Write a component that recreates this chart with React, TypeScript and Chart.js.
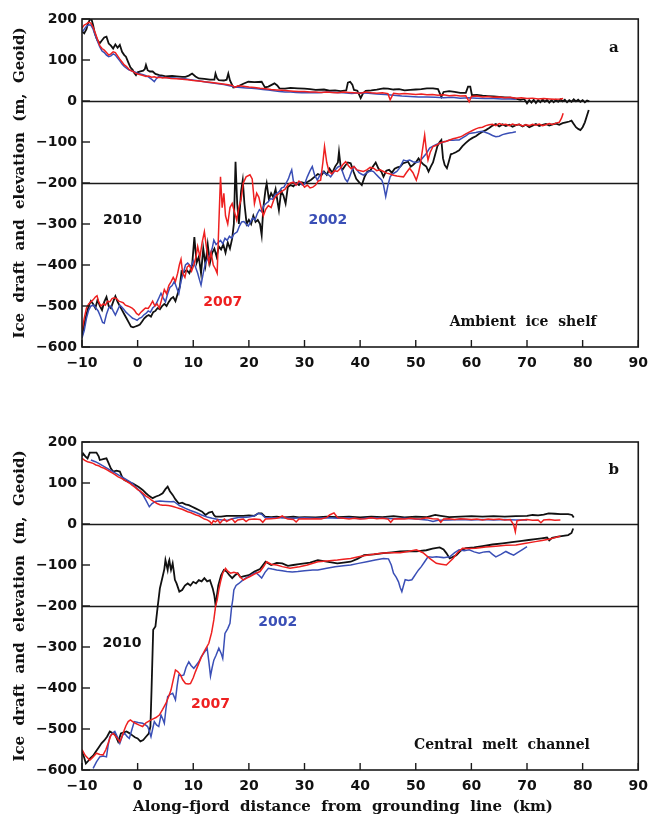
import React, { useEffect, useRef } from "react";
import { Chart, registerables } from "chart.js";

Chart.register(...registerables);

type Pt = [number, number];

// ---------- Panel a: ambient ice shelf ----------
const aTop2010: Pt[] = [[-10,170],[-9.6,165],[-9.2,175],[-8.9,190],[-8.6,198],[-8.3,200],[-8,185],[-7.7,165],[-7.3,150],[-6.8,141],[-6.4,148],[-6,155],[-5.6,157],[-5.2,140],[-4.8,135],[-4.4,128],[-4,138],[-3.6,130],[-3.2,137],[-2.8,120],[-2.4,112],[-2.1,108],[-1.7,95],[-1.3,82],[-0.9,76],[-0.6,68],[-0.3,63],[0,70],[0.5,72],[1,74],[1.3,78],[1.5,88],[1.8,75],[2.2,72],[2.7,72],[3.2,66],[3.9,63],[4.5,62],[5,60],[6.2,61],[7,60],[8,59],[8.6,59],[9.2,62],[9.8,67],[10.4,60],[11,55],[12,54],[13,52],[13.8,52],[14,67],[14.3,55],[14.6,51],[15.5,50],[16,52],[16.3,67],[16.6,50],[17.2,33],[18,35],[19,42],[19.9,47],[21,46],[22.3,47],[22.6,40],[22.9,33],[23.5,35],[24.6,43],[25.1,38],[25.5,31],[26.5,30],[27.5,32],[28.8,31],[30,30],[31,29],[32,27],[33.5,28],[34.5,25],[35.5,26],[36.5,24],[37.5,26],[37.8,45],[38.2,47],[38.6,40],[38.9,27],[39.5,25],[40.1,7],[40.5,18],[41,25],[42,26],[43,28],[44.2,31],[45,30],[46,28],[47,29],[48,26],[49,27],[50,28],[51,29],[52,31],[53.1,31],[54,29],[54.6,10],[55,22],[56,24],[57,22],[58,20],[59,20],[59.4,35],[59.8,35],[60.1,14],[61,15],[62,13],[63,12],[64,11],[65,10],[66,9],[67,8],[68,6],[68.8,3],[69.5,5],[70,-6],[70.4,2],[70.8,-4],[71.2,3],[71.6,-5],[72,2],[72.4,-3],[72.8,4],[73.2,-2],[73.6,3],[74,-4],[74.4,2],[74.8,-3],[75.2,3],[75.6,-2],[76,4],[76.4,-1],[76.8,3],[77.2,-3],[77.6,2],[78,-2],[78.4,4],[78.8,-1],[79.2,3],[79.6,-2],[80,2],[80.4,-3],[80.8,1],[81.2,-1]];

const aTop2007: Pt[] = [[-10,178],[-9.6,185],[-9.2,188],[-8.8,192],[-8.4,190],[-8,180],[-7.6,165],[-7.2,150],[-6.8,135],[-6.4,128],[-6,124],[-5.6,118],[-5.2,112],[-4.8,115],[-4.4,120],[-4,118],[-3.6,110],[-3.2,102],[-2.8,95],[-2.4,88],[-2,84],[-1.6,78],[-1.2,74],[-0.8,72],[-0.4,68],[0,66],[0.5,64],[1,62],[1.5,60],[2,61],[2.5,58],[3,59],[3.5,57],[4,58],[4.5,56],[5,57],[6,55],[7,54],[8,53],[9,52],[10,50],[11,49],[12,47],[13,46],[14,44],[15,42],[16,40],[17,38],[17.5,33],[18,37],[19,36],[20,34],[21,33],[22,31],[23,30],[24,28],[25,27],[26,26],[27,25],[28,24],[29,23],[30,23],[31,22],[32,22],[33,21],[34,22],[35,21],[36,20],[37,22],[38,21],[39,20],[40,19],[41,22],[42,20],[43,19],[44,20],[45,18],[45.4,3],[46,19],[47,17],[48,18],[49,17],[50,16],[51,17],[52,15],[53,16],[54,14],[55,15],[56,13],[57,14],[58,12],[59,13],[59.6,-2],[60,11],[61,12],[62,10],[63,11],[64,9],[65,10],[66,8],[67,9],[68,7],[69,8],[70,6],[71,7],[72,5],[73,6],[74,5],[75,4],[76,5],[76.5,6]];

const aTop2002: Pt[] = [[-10,168],[-9.6,175],[-9.2,182],[-8.8,186],[-8.4,185],[-8,175],[-7.6,160],[-7.2,145],[-6.8,132],[-6.4,122],[-6,118],[-5.6,112],[-5.2,108],[-4.8,110],[-4.4,115],[-4,112],[-3.6,105],[-3.2,98],[-2.8,90],[-2.4,84],[-2,80],[-1.6,76],[-1.2,74],[-0.8,72],[-0.4,70],[0,68],[0.5,66],[1,64],[1.5,62],[2,58],[2.6,52],[3,47],[3.4,55],[3.8,60],[4.5,58],[5.5,57],[6.5,56],[7.5,55],[8.5,54],[9.5,52],[10.5,50],[11.5,48],[12.5,46],[13.5,44],[14.5,42],[15.5,40],[16.5,37],[17.5,34],[18.5,33],[19.5,32],[20.5,31],[21.5,30],[22.5,28],[23.5,27],[24.5,25],[25.5,23],[26.5,22],[27.5,22],[28.5,21],[29.5,20],[31,21],[32.5,20],[34,22],[35.5,21],[37,20],[38.5,18],[40,20],[41.5,19],[43,17],[44.5,16],[46,14],[47.5,12],[49,11],[50.5,10],[52,10],[53.5,9],[55,8],[56.5,9],[58,7],[59.5,8],[61,7],[62.5,6],[64,6],[65.5,5],[67,5],[68,4]];

const aDraft2010: Pt[] = [[-10,-572],[-9.6,-545],[-9.2,-520],[-8.8,-500],[-8.4,-488],[-8,-495],[-7.6,-505],[-7.2,-485],[-6.8,-500],[-6.4,-510],[-6,-490],[-5.6,-478],[-5.2,-500],[-4.8,-505],[-4.4,-490],[-4,-476],[-3.6,-490],[-3.2,-500],[-2.8,-510],[-2.4,-520],[-2,-530],[-1.6,-540],[-1.2,-550],[-0.8,-552],[-0.4,-550],[0,-548],[0.4,-545],[0.8,-538],[1.2,-530],[1.6,-525],[2,-522],[2.4,-526],[2.8,-515],[3.2,-512],[3.6,-505],[4,-508],[4.4,-500],[4.8,-495],[5.2,-500],[5.6,-490],[6,-482],[6.4,-478],[6.8,-488],[7.2,-470],[7.6,-452],[7.9,-415],[8.3,-418],[8.8,-412],[9.3,-420],[9.8,-400],[10.2,-332],[10.6,-395],[11,-380],[11.4,-420],[11.8,-360],[12.2,-400],[12.6,-350],[13,-395],[13.4,-370],[13.8,-360],[14.2,-380],[14.6,-355],[15,-362],[15.4,-350],[15.8,-370],[16.2,-345],[16.6,-360],[17,-335],[17.3,-300],[17.6,-148],[17.9,-250],[18.2,-300],[18.6,-220],[18.9,-193],[19.2,-250],[19.6,-300],[20,-290],[20.4,-300],[20.8,-280],[21.2,-295],[21.6,-290],[22,-300],[22.3,-327],[22.6,-260],[23,-215],[23.2,-201],[23.6,-240],[24,-225],[24.4,-235],[24.8,-215],[25.2,-250],[25.4,-266],[25.8,-220],[26.2,-230],[26.6,-250],[27,-210],[27.5,-205],[28,-208],[28.5,-200],[29,-205],[29.5,-198],[30,-200],[30.6,-197],[31.2,-192],[31.8,-185],[32.4,-178],[33,-182],[33.5,-172],[34,-180],[34.5,-165],[35,-175],[35.5,-160],[36,-150],[36.2,-124],[36.5,-160],[36.8,-168],[37.3,-158],[37.8,-150],[38.3,-152],[38.8,-172],[39.3,-190],[39.8,-198],[40.3,-205],[40.8,-185],[41.3,-172],[41.8,-170],[42.3,-160],[42.8,-150],[43.3,-165],[43.8,-172],[44.2,-185],[44.7,-170],[45.2,-168],[45.7,-175],[46.2,-165],[46.7,-162],[47.2,-160],[47.7,-152],[48.2,-150],[48.6,-148],[49.1,-160],[49.5,-156],[50,-150],[50.5,-140],[50.9,-148],[51.4,-155],[51.9,-160],[52.3,-172],[52.7,-160],[53.1,-150],[53.5,-130],[53.9,-110],[54.3,-100],[54.6,-95],[54.9,-140],[55.2,-156],[55.6,-164],[55.9,-150],[56.3,-130],[56.7,-128],[57.2,-125],[57.8,-120],[58.4,-110],[59,-102],[59.6,-95],[60.2,-90],[60.8,-86],[61.4,-80],[62,-75],[62.6,-71],[63.2,-66],[63.8,-60],[64.4,-56],[65,-62],[65.6,-57],[66.2,-61],[66.8,-58],[67.4,-63],[68,-59],[68.6,-57],[69.2,-62],[69.8,-58],[70.4,-64],[71,-60],[71.6,-56],[72.2,-61],[72.8,-58],[73.4,-56],[74,-60],[74.6,-57],[75.2,-55],[75.8,-58],[76.4,-54],[77,-52],[77.6,-50],[78,-48],[78.4,-56],[78.8,-64],[79.2,-68],[79.6,-71],[80,-64],[80.4,-52],[80.8,-35],[81.1,-22]];

const aDraft2007: Pt[] = [[-10,-560],[-9.6,-530],[-9.2,-505],[-8.8,-495],[-8.4,-490],[-8,-485],[-7.6,-478],[-7.3,-475],[-7,-490],[-6.6,-500],[-6.2,-495],[-5.8,-498],[-5.4,-488],[-5,-490],[-4.6,-482],[-4.2,-480],[-3.8,-482],[-3.4,-488],[-3,-490],[-2.6,-492],[-2.2,-498],[-1.8,-500],[-1.4,-502],[-1,-505],[-0.6,-510],[-0.2,-518],[0.2,-522],[0.6,-515],[1,-510],[1.4,-505],[1.9,-506],[2.3,-498],[2.7,-488],[3.1,-500],[3.5,-495],[3.9,-505],[4.3,-485],[4.8,-460],[5.2,-470],[5.6,-450],[6,-441],[6.4,-430],[6.8,-440],[7.2,-420],[7.5,-400],[7.8,-386],[8.1,-420],[8.5,-430],[8.9,-405],[9.3,-400],[9.7,-415],[10.1,-400],[10.5,-380],[10.8,-355],[11.2,-380],[11.6,-345],[12,-319],[12.4,-360],[12.8,-395],[13.2,-370],[13.6,-400],[14,-410],[14.3,-420],[14.6,-300],[14.9,-185],[15.2,-260],[15.5,-225],[15.8,-280],[16.2,-300],[16.6,-260],[17,-250],[17.4,-270],[17.8,-290],[18.2,-260],[18.6,-240],[19,-200],[19.5,-185],[20.2,-180],[20.6,-190],[21,-250],[21.4,-225],[21.8,-235],[22.2,-260],[22.6,-280],[23,-265],[23.5,-255],[24,-260],[24.5,-240],[25,-230],[25.5,-225],[26,-220],[26.5,-215],[27,-205],[27.5,-200],[28,-198],[28.5,-205],[29,-195],[29.5,-200],[30,-210],[30.5,-205],[31,-212],[31.5,-210],[32,-205],[32.5,-195],[32.9,-193],[33.3,-150],[33.6,-111],[34,-150],[34.4,-172],[34.9,-178],[35.4,-170],[35.9,-172],[36.4,-165],[36.9,-155],[37.4,-148],[37.9,-158],[38.4,-165],[38.9,-160],[39.4,-168],[40,-170],[40.6,-172],[41.2,-168],[41.8,-162],[42.4,-164],[43,-170],[43.6,-168],[44.2,-172],[44.8,-176],[45.4,-178],[46,-181],[46.6,-183],[47.2,-184],[47.8,-185],[48.3,-175],[48.9,-164],[49.5,-175],[50.1,-193],[50.5,-175],[50.8,-156],[51.2,-120],[51.6,-83],[51.9,-120],[52.2,-144],[52.6,-125],[53.1,-111],[53.7,-108],[54.3,-103],[54.9,-100],[55.5,-98],[56.1,-95],[56.7,-92],[57.3,-90],[57.9,-88],[58.4,-85],[59,-80],[59.6,-76],[60.2,-72],[60.8,-68],[61.4,-65],[62,-64],[62.6,-60],[63.2,-58],[63.8,-57],[64.4,-60],[65,-55],[65.6,-58],[66.2,-57],[66.8,-60],[67.4,-56],[68,-59],[68.6,-57],[69.2,-61],[69.8,-58],[70.4,-60],[71,-57],[71.6,-59],[72.2,-56],[72.8,-60],[73.4,-58],[74,-55],[74.6,-57],[75.2,-54],[75.8,-52],[76.2,-42],[76.5,-30]];

const aDraft2002: Pt[] = [[-10,-578],[-9.6,-560],[-9.2,-530],[-8.8,-510],[-8.4,-500],[-7.9,-498],[-7.5,-505],[-7.1,-512],[-6.7,-525],[-6.3,-540],[-6,-542],[-5.6,-520],[-5.2,-505],[-4.8,-500],[-4.4,-512],[-4,-522],[-3.6,-510],[-3.2,-498],[-2.9,-502],[-2.5,-508],[-2.1,-515],[-1.7,-520],[-1.3,-525],[-0.9,-530],[-0.5,-532],[-0.1,-535],[0.3,-530],[0.7,-528],[1.1,-522],[1.5,-518],[1.9,-512],[2.3,-515],[2.7,-505],[3.1,-500],[3.5,-490],[3.9,-478],[4.2,-469],[4.6,-480],[5,-490],[5.4,-470],[5.8,-455],[6.2,-450],[6.6,-440],[7,-455],[7.4,-470],[7.8,-440],[8.2,-420],[8.6,-400],[9,-395],[9.6,-404],[10,-390],[10.4,-405],[10.8,-420],[11.1,-435],[11.4,-449],[11.8,-420],[12.2,-395],[12.6,-385],[13,-375],[13.4,-360],[13.7,-339],[14.1,-350],[14.5,-345],[14.9,-340],[15.3,-348],[15.7,-335],[16.1,-340],[16.5,-330],[16.9,-335],[17.3,-325],[17.9,-319],[18.3,-305],[18.7,-295],[19.1,-294],[19.5,-300],[19.9,-305],[20.3,-295],[20.7,-285],[21.1,-290],[21.5,-275],[21.9,-265],[22.3,-270],[22.7,-255],[23.1,-250],[23.5,-245],[23.9,-238],[24.3,-240],[24.7,-228],[25.1,-225],[25.5,-220],[25.9,-212],[26.3,-210],[26.7,-200],[27.1,-190],[27.4,-178],[27.7,-168],[28,-195],[28.4,-205],[28.8,-200],[29.2,-198],[29.6,-205],[30,-203],[30.5,-185],[31,-170],[31.4,-160],[31.8,-180],[32.3,-193],[32.8,-180],[33.3,-172],[33.8,-178],[34.3,-180],[34.7,-185],[35.2,-175],[35.7,-165],[36.1,-160],[36.5,-160],[36.9,-175],[37.3,-190],[37.7,-197],[38.1,-185],[38.5,-170],[38.9,-160],[39.4,-168],[39.8,-175],[40.2,-178],[40.6,-181],[41.1,-176],[41.6,-172],[42,-170],[42.4,-172],[42.8,-178],[43.3,-185],[43.9,-193],[44.2,-205],[44.6,-233],[45,-205],[45.4,-185],[45.8,-178],[46.2,-175],[46.6,-172],[47,-165],[47.4,-155],[47.8,-144],[48.3,-146],[48.9,-144],[49.5,-148],[50.1,-150],[50.7,-148],[51.3,-138],[51.9,-128],[52.5,-115],[53.1,-110],[53.7,-106],[54.3,-103],[54.9,-100],[55.5,-98],[56.1,-95],[56.7,-96],[57.2,-95],[57.8,-95],[58.4,-90],[59,-85],[59.6,-79],[60.2,-78],[60.8,-77],[61.4,-75],[62,-74],[62.6,-77],[63.2,-80],[63.8,-84],[64.4,-87],[65,-86],[65.6,-82],[66.2,-80],[66.8,-78],[67.4,-77],[68,-75]];

// ---------- Panel b: central melt channel ----------
const bTop2010: Pt[] = [[-10,165],[-9.8,172],[-9.4,165],[-9,160],[-8.6,174],[-8,174],[-7.4,174],[-7,165],[-6.8,156],[-6.2,158],[-5.6,160],[-5.2,148],[-4.8,135],[-4.4,128],[-3.8,130],[-3.2,128],[-2.8,115],[-2.4,107],[-1.8,104],[-1.2,100],[-0.9,99],[-0.4,95],[0.2,90],[0.9,83],[1.5,75],[2.1,68],[2.7,63],[3.3,67],[3.9,70],[4.5,75],[5,85],[5.4,91],[5.8,80],[6.3,71],[6.8,60],[7.4,50],[8,52],[8.6,48],[9.2,46],[9.8,42],[10.4,38],[11,34],[11.6,30],[12.2,22],[12.8,28],[13.4,30],[13.7,22],[14,18],[15,18],[16,20],[17,20],[18,20],[19,20],[20,21],[21,20],[21.7,26],[22.3,26],[22.9,18],[24,17],[25,18],[26,16],[27,17],[28,18],[29,16],[30,17],[32,16],[34,18],[36,17],[38,18],[40,16],[42,18],[44,17],[46,19],[48,16],[50,18],[52,17],[53.5,22],[54.5,20],[56,17],[58,18],[60,19],[62,18],[64,19],[66,18],[68,19],[70,20],[71,22],[72,21],[73,23],[73.9,26],[75,25],[76,24],[77.4,24],[78.1,22],[78.4,16]];

const bTop2007: Pt[] = [[-10,160],[-9.5,155],[-9,152],[-8.5,150],[-8,148],[-7.5,144],[-7,142],[-6.5,138],[-6,136],[-5.5,132],[-5,128],[-4.5,124],[-4,120],[-3.5,115],[-3,112],[-2.5,108],[-2,104],[-1.5,100],[-1,95],[-0.5,90],[0,84],[0.5,80],[1,74],[1.5,68],[2,64],[2.5,58],[3,54],[3.5,50],[4,47],[4.5,46],[5,46],[5.5,45],[6,44],[6.5,42],[7,40],[7.5,38],[8,36],[8.5,33],[9,30],[9.5,28],[10,25],[10.5,22],[11,20],[11.5,16],[12,12],[12.5,10],[13,6],[13.3,0],[13.6,8],[14,5],[14.4,10],[14.8,2],[15.2,8],[15.6,12],[16,6],[16.5,10],[17,12],[17.5,4],[18,10],[19,12],[19.5,6],[20,11],[21,12],[22,11],[22.5,4],[23,12],[24,13],[25,14],[25.5,16],[26,20],[26.5,15],[27,12],[28,11],[28.5,5],[29,12],[30,13],[31,12],[32,13],[33,12],[34,16],[34.5,22],[35.3,27],[36,15],[37,14],[38,12],[39,14],[40,12],[41,13],[42,15],[43,13],[44,14],[45,12],[45.5,4],[46,12],[47,13],[48,12],[49,14],[50,12],[51,13],[52,15],[53,13],[54,12],[54.5,4],[55,12],[56,13],[57,11],[58,13],[59,12],[60,11],[61,12],[62,10],[63,12],[64,11],[65,12],[66,10],[67,11],[67.6,-2],[67.9,-19],[68.2,8],[69,10],[70,11],[71,9],[72,10],[72.5,3],[73,10],[74,11],[75,9],[76,10]];

const bTop2002: Pt[] = [[-8.4,156],[-7.6,152],[-7,148],[-6,140],[-5,132],[-4,124],[-3,116],[-2,108],[-1,100],[-0.5,92],[0,86],[0.5,78],[1,70],[1.6,55],[2.1,42],[2.6,50],[3.2,55],[4,56],[5,55],[6,54],[6.5,55],[7,50],[7.5,45],[8,42],[8.6,38],[9.5,33],[10.5,28],[11.5,22],[12.5,17],[13.4,14],[14.5,11],[15.5,9],[16.3,10],[17,13],[18.1,16],[19,16],[20,17],[21,20],[21.7,26],[22.3,24],[22.9,16],[24,15],[26,15],[28,14],[30,15],[32,14],[34,15],[36,14],[38,15],[40,13],[42,15],[44,14],[46,13],[48,14],[50,12],[52,10],[53.1,6],[54,9],[56,10],[58,11],[60,10],[62,11],[64,10],[66,11],[68,10],[70,10]];

const bDraft2010: Pt[] = [[-10,-555],[-9.6,-570],[-9.3,-584],[-8.9,-578],[-8.5,-571],[-8,-565],[-7.5,-555],[-7,-545],[-6.5,-535],[-6,-528],[-5.5,-519],[-5,-506],[-4.5,-510],[-4,-515],[-3.5,-531],[-3,-511],[-2.5,-508],[-2,-506],[-1.5,-510],[-1,-515],[-0.5,-520],[0,-523],[0.5,-530],[1,-527],[1.5,-519],[2,-511],[2.3,-494],[2.5,-405],[2.8,-258],[3.2,-250],[3.6,-202],[4,-157],[4.5,-128],[4.8,-110],[5,-88],[5.2,-100],[5.4,-112],[5.6,-92],[5.7,-88],[5.9,-105],[6,-112],[6.3,-96],[6.5,-115],[6.7,-136],[7,-145],[7.5,-165],[8,-161],[8.5,-150],[9,-145],[9.5,-150],[10,-141],[10.5,-145],[11,-137],[11.5,-140],[12,-132],[12.5,-140],[13,-137],[13.5,-157],[13.8,-175],[14,-197],[14.2,-180],[14.5,-150],[15,-125],[15.5,-112],[16,-116],[16.5,-125],[17,-132],[17.5,-125],[18,-120],[18.5,-130],[19,-128],[20,-125],[21,-116],[22,-110],[23,-92],[24,-100],[25,-95],[26,-96],[27,-102],[28,-100],[29,-98],[30,-96],[31,-94],[32.4,-88],[34,-92],[35.9,-96],[37,-94],[38.3,-92],[39.5,-85],[40.7,-76],[42.5,-74],[44.2,-71],[45.7,-69],[47.2,-67],[48.6,-66],[50.1,-67],[51.9,-64],[53,-60],[54.3,-57],[55,-62],[55.5,-71],[56.1,-84],[57.3,-76],[58,-66],[59,-59],[60.5,-57],[62,-54],[63.8,-50],[65.6,-47],[67.3,-44],[69.1,-41],[70.3,-39],[71.5,-37],[72.6,-35],[73.6,-33],[74,-40],[74.5,-34],[75.6,-31],[76.5,-29],[77.4,-27],[78,-22],[78.3,-11]];

const bDraft2007: Pt[] = [[-10,-550],[-9.4,-565],[-8.6,-576],[-8,-568],[-7.4,-559],[-6.8,-562],[-6.2,-563],[-5.7,-550],[-5.3,-535],[-4.8,-515],[-4.4,-511],[-3.8,-520],[-3.2,-531],[-2.8,-518],[-2.5,-506],[-2.1,-492],[-1.7,-482],[-1.3,-478],[-0.9,-482],[-0.4,-486],[0.2,-490],[0.9,-494],[1.5,-485],[2.1,-480],[2.7,-476],[3.3,-472],[3.9,-466],[4.5,-452],[5.1,-437],[5.6,-420],[6,-405],[6.4,-380],[6.8,-356],[7.2,-360],[7.7,-368],[8.1,-380],[8.6,-389],[9.1,-390],[9.5,-389],[10,-375],[10.4,-360],[11,-340],[11.6,-320],[12.2,-305],[12.8,-291],[13.3,-265],[13.7,-234],[14,-202],[14.3,-185],[14.6,-160],[14.9,-141],[15.3,-120],[15.8,-108],[16.2,-115],[16.7,-120],[17.3,-118],[17.9,-120],[18.5,-130],[19,-137],[19.6,-132],[20.2,-128],[21,-122],[22,-116],[22.6,-105],[23.2,-92],[24,-98],[25,-100],[26,-104],[27.4,-108],[28.2,-106],[29.1,-104],[30.5,-100],[32.4,-92],[34,-90],[35.9,-88],[37,-86],[38.3,-84],[39.7,-80],[41.2,-76],[42.7,-73],[44.2,-71],[45.7,-70],[47.2,-70],[48.6,-67],[50.1,-63],[51.3,-70],[52.5,-84],[53.1,-90],[53.7,-96],[54.6,-98],[55.5,-100],[56.1,-92],[56.7,-84],[57.5,-70],[58.4,-59],[59.5,-60],[60.8,-59],[62.6,-56],[64.4,-54],[66.2,-52],[68,-51],[69.8,-47],[71.5,-43],[72.7,-40],[73.9,-37],[74.8,-34],[75.6,-31],[76,-30]];

const bDraft2002: Pt[] = [[-8,-596],[-7.4,-580],[-6.8,-568],[-6.2,-566],[-5.6,-568],[-5.3,-540],[-5,-519],[-4.5,-510],[-4.1,-506],[-3.6,-520],[-3.2,-535],[-2.7,-515],[-2.3,-511],[-1.9,-518],[-1.5,-523],[-1,-500],[-0.6,-482],[0.1,-484],[0.9,-486],[1.4,-490],[1.8,-494],[2.1,-505],[2.4,-519],[2.7,-500],[3,-482],[3.4,-490],[3.8,-494],[4.2,-466],[4.5,-475],[4.8,-486],[5.1,-450],[5.4,-421],[5.8,-416],[6.3,-413],[6.8,-429],[7.1,-395],[7.4,-368],[7.9,-370],[8.3,-368],[8.7,-350],[9.2,-336],[9.6,-345],[10.1,-352],[10.5,-345],[11,-336],[11.4,-325],[11.9,-315],[12.5,-303],[12.8,-335],[13.1,-371],[13.4,-350],[13.7,-332],[14.1,-320],[14.6,-303],[15,-315],[15.3,-328],[15.7,-267],[16.2,-255],[16.6,-242],[16.9,-202],[17.1,-185],[17.3,-161],[17.7,-150],[18.2,-145],[18.8,-138],[19.4,-132],[20,-128],[20.5,-124],[21.2,-118],[21.8,-125],[22.3,-132],[22.9,-118],[23.5,-108],[24.2,-110],[25,-112],[26,-114],[26.8,-116],[27.8,-117],[28.8,-116],[30,-114],[31.5,-112],[32.4,-112],[34,-108],[35.5,-104],[37,-102],[38.3,-100],[39.7,-96],[41.2,-92],[42.7,-88],[44.2,-84],[45.1,-85],[45.6,-100],[46,-120],[46.5,-130],[46.9,-141],[47.2,-155],[47.5,-165],[47.8,-150],[48.1,-136],[48.7,-138],[49.3,-136],[49.7,-128],[50.1,-120],[50.5,-112],[51,-104],[51.6,-92],[52.2,-80],[53,-81],[53.7,-80],[55,-82],[56.1,-80],[57,-70],[57.8,-63],[58.7,-65],[59.6,-63],[60.5,-68],[61.4,-71],[62.3,-68],[63.2,-67],[63.8,-74],[64.4,-80],[65.3,-74],[66.2,-67],[66.9,-72],[67.6,-76],[68.3,-70],[69.1,-63],[70,-55]];

// Axis settings and reference levels
const xTicks = [-10, 0, 10, 20, 30, 40, 50, 60, 70, 80, 90];
const yTicks = [200, 100, 0, -100, -200, -300, -400, -500, -600];
const refLevels = [0, -200];
const yTitle = "Ice  draft  and  elevation  (m,  Geoid)";
const xTitle = "Along\u2013fjord  distance  from  grounding  line  (km)";

const BLACK = "#111111";
const RED = "#ee2020";
const BLUE = "#3a4fb6";
const SANS = "'DejaVu Sans', sans-serif";
const SERIF = "'DejaVu Serif', serif";

type TextMark = { text: string; x: number; y: number; color: string; font: string; align: CanvasTextAlign };

const aLabels: TextMark[] = [
  { text: "2010", x: -2.7, y: -290, color: BLACK, font: `bold 14px ${SANS}`, align: "center" },
  { text: "2007", x: 15.3, y: -490, color: RED, font: `bold 14px ${SANS}`, align: "center" },
  { text: "2002", x: 34.2, y: -290, color: BLUE, font: `bold 14px ${SANS}`, align: "center" },
  { text: "Ambient  ice  shelf", x: 82.5, y: -539, color: BLACK, font: `bold 14px ${SERIF}`, align: "right" },
  { text: "a", x: 85.6, y: 129, color: BLACK, font: `bold 15px ${SERIF}`, align: "center" },
];

const bLabels: TextMark[] = [
  { text: "2010", x: -2.8, y: -290, color: BLACK, font: `bold 14px ${SANS}`, align: "center" },
  { text: "2007", x: 13.1, y: -439, color: RED, font: `bold 14px ${SANS}`, align: "center" },
  { text: "2002", x: 25.2, y: -239, color: BLUE, font: `bold 14px ${SANS}`, align: "center" },
  { text: "Central  melt  channel", x: 81.3, y: -541, color: BLACK, font: `bold 14px ${SERIF}`, align: "right" },
  { text: "b", x: 85.6, y: 132, color: BLACK, font: `bold 15px ${SERIF}`, align: "center" },
];

const fmtTick = (v: number) => (v < 0 ? "\u2212" + Math.abs(v) : String(v));
const toXY = (pts: Pt[]) => pts.map(([x, y]) => ({ x, y }));

const panelPlugin = {
  id: "panelDecor",
  beforeDatasetsDraw(chart: any) {
    const { ctx, chartArea: ca, scales } = chart;
    ctx.save();
    ctx.strokeStyle = "#1a1a1a";
    ctx.lineWidth = 1.6;
    for (const v of refLevels) {
      const y = Math.round(scales.y.getPixelForValue(v)) + 0.5;
      ctx.beginPath();
      ctx.moveTo(ca.left, y);
      ctx.lineTo(ca.right, y);
      ctx.stroke();
    }
    ctx.restore();
  },
  afterDatasetsDraw(chart: any, _args: any, opts: any) {
    const { ctx, chartArea: ca, scales } = chart;
    ctx.save();
    ctx.strokeStyle = "#1a1a1a";
    ctx.lineWidth = 1.6;
    ctx.strokeRect(ca.left, ca.top, ca.right - ca.left, ca.bottom - ca.top);
    // inward tick marks on the left and bottom edges
    ctx.lineWidth = 1.4;
    for (const v of yTicks) {
      const y = scales.y.getPixelForValue(v);
      ctx.beginPath();
      ctx.moveTo(ca.left, y);
      ctx.lineTo(ca.left + 8, y);
      ctx.stroke();
    }
    for (const v of xTicks) {
      const x = scales.x.getPixelForValue(v);
      ctx.beginPath();
      ctx.moveTo(x, ca.bottom);
      ctx.lineTo(x, ca.bottom - 7);
      ctx.stroke();
    }
    const labels: TextMark[] = opts.labels || [];
    ctx.textBaseline = "middle";
    for (const l of labels) {
      ctx.font = l.font;
      ctx.fillStyle = l.color;
      ctx.textAlign = l.align;
      ctx.fillText(l.text, scales.x.getPixelForValue(l.x), scales.y.getPixelForValue(l.y));
    }
    // distance axis title, set slightly left of the plot centre
    if (opts.xTitle) {
      ctx.font = `bold 15px ${SERIF}`;
      ctx.fillStyle = "#111";
      ctx.textAlign = "center";
      ctx.fillText(opts.xTitle, 343, chart.height - 10);
    }
    ctx.restore();
  },
};

type PanelProps = {
  top: number;
  height: number;
  padTop: number;
  axisHeight: number;
  top2010: Pt[];
  top2007: Pt[];
  top2002: Pt[];
  draft2010: Pt[];
  draft2007: Pt[];
  draft2002: Pt[];
  labels: TextMark[];
  xTitle?: string;
};

function Panel(p: PanelProps) {
  const ref = useRef<HTMLCanvasElement | null>(null);
  useEffect(() => {
    if (!ref.current) return;
    const line = (data: Pt[], color: string, width: number, order: number) => ({
      data: toXY(data),
      borderColor: color,
      backgroundColor: color,
      borderWidth: width,
      pointRadius: 0,
      tension: 0,
      fill: false,
      order,
    });
    const chart = new Chart(ref.current, {
      type: "line",
      data: {
        datasets: [
          line(p.top2010, BLACK, 1.8, 3),
          line(p.draft2010, BLACK, 1.8, 3),
          line(p.top2002, BLUE, 1.5, 2),
          line(p.draft2002, BLUE, 1.5, 2),
          line(p.top2007, RED, 1.5, 1),
          line(p.draft2007, RED, 1.5, 1),
        ],
      },
      options: {
        responsive: false,
        animation: false,
        devicePixelRatio: 1,
        layout: { padding: { top: p.padTop, right: 12, left: 0, bottom: 0 } },
        plugins: {
          legend: { display: false },
          tooltip: { enabled: false },
          panelDecor: { labels: p.labels, xTitle: p.xTitle },
        } as any,
        scales: {
          x: {
            type: "linear",
            min: -10,
            max: 90,
            grid: { display: false, drawTicks: false },
            border: { display: false },
            afterBuildTicks: (s: any) => {
              s.ticks = xTicks.map((v) => ({ value: v }));
            },
            afterFit: (s: any) => {
              s.height = p.axisHeight;
            },
            ticks: {
              autoSkip: false,
              maxRotation: 0,
              padding: 8,
              color: "#111",
              font: { family: SANS, size: 14, weight: "bold" },
              callback: (v: any) => fmtTick(Number(v)),
            },
            title: { display: false },
          },
          y: {
            type: "linear",
            min: -600,
            max: 200,
            grid: { display: false, drawTicks: false },
            border: { display: false },
            afterBuildTicks: (s: any) => {
              s.ticks = yTicks.map((v) => ({ value: v }));
            },
            afterFit: (s: any) => {
              s.width = 82;
            },
            ticks: {
              autoSkip: false,
              padding: 5,
              color: "#111",
              font: { family: SANS, size: 14, weight: "bold" },
              callback: (v: any) => fmtTick(Number(v)),
            },
            title: {
              display: true,
              text: yTitle,
              color: "#111",
              font: { family: SERIF, size: 15, weight: "bold" },
              padding: { top: 11, bottom: 0 },
            },
          },
        },
      } as any,
      plugins: [panelPlugin],
    });
    return () => chart.destroy();
  }, []);
  return (
    <canvas
      ref={ref}
      width={656}
      height={p.height}
      style={{ position: "absolute", left: 0, top: p.top, width: 656, height: p.height }}
    />
  );
}

export default function App() {
  return (
    <div style={{ position: "fixed", left: 0, top: 0, width: 656, height: 817, background: "#fff" }}>
      <Panel
        top={0}
        height={392}
        padTop={19}
        axisHeight={45}
        top2010={aTop2010}
        top2007={aTop2007}
        top2002={aTop2002}
        draft2010={aDraft2010}
        draft2007={aDraft2007}
        draft2002={aDraft2002}
        labels={aLabels}
      />
      <Panel
        top={420}
        height={397}
        padTop={22}
        axisHeight={47}
        top2010={bTop2010}
        top2007={bTop2007}
        top2002={bTop2002}
        draft2010={bDraft2010}
        draft2007={bDraft2007}
        draft2002={bDraft2002}
        labels={bLabels}
        xTitle={xTitle}
      />
    </div>
  );
}
